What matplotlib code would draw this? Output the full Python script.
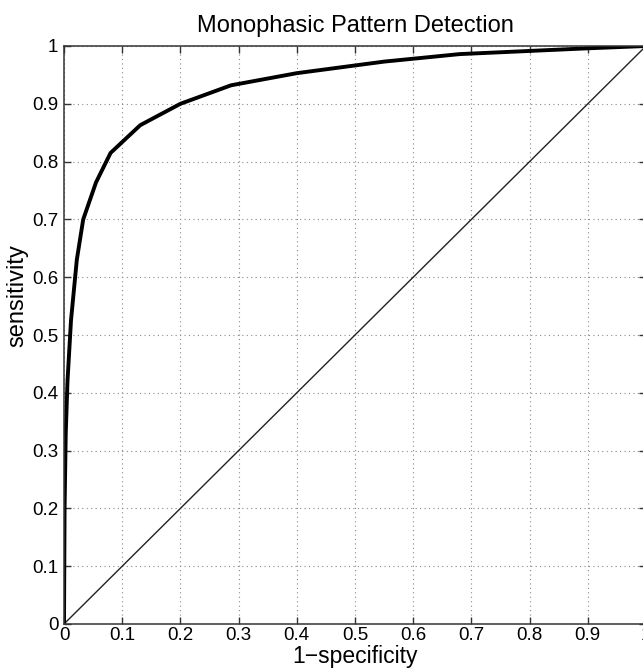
import matplotlib
matplotlib.use("Agg")
import matplotlib.pyplot as plt

# ROC curve
fpr = [0.0, 0.001, 0.003, 0.006, 0.012, 0.022, 0.033, 0.055, 0.08, 0.131,
       0.2, 0.287, 0.4, 0.55, 0.68, 0.9, 1.0]
tpr = [0.0, 0.2, 0.33, 0.42, 0.525, 0.63, 0.70, 0.764, 0.815, 0.863,
       0.90, 0.932, 0.953, 0.973, 0.986, 0.996, 1.0]
chance = [0.0, 1.0]
ticks = [0, 0.1, 0.2, 0.3, 0.4, 0.5, 0.6, 0.7, 0.8, 0.9, 1]
tick_labels = ["0", "0.1", "0.2", "0.3", "0.4", "0.5", "0.6", "0.7", "0.8", "0.9", "1"]

plt.rcParams["font.family"] = ["Liberation Sans", "DejaVu Sans"]

fig = plt.figure(figsize=(6.43, 6.70), dpi=100)
ax = fig.add_axes([64 / 643, 46 / 670, 582 / 643, 578 / 670])

ax.plot(chance, chance, color="#222222", lw=1.0)
ax.plot(fpr, tpr, color="black", lw=2.8, solid_joinstyle="round")

ax.set_xlim(0, 1)
ax.set_ylim(0, 1)
ax.set_xticks(ticks)
ax.set_xticklabels(tick_labels)
ax.set_yticks(ticks)
ax.set_yticklabels(tick_labels)
ax.tick_params(direction="in", length=5, width=1, labelsize=13.5,
               top=True, right=True, color="#333333")
ax.tick_params(axis="x", pad=2)
ax.tick_params(axis="y", pad=4)
ax.grid(True, linestyle=(0, (1, 3)), color="#888888", lw=0.8)
for s in ax.spines.values():
    s.set_color("#333333")
    s.set_linewidth(1.1)

ax.set_title("Monophasic Pattern Detection", fontsize=17, pad=10)
ax.set_xlabel("1\u2212specificity", fontsize=16.5)
ax.set_ylabel("sensitivity", fontsize=17)
ax.xaxis.set_label_coords(0.5, -0.036)
ax.yaxis.set_label_coords(-0.062, 0.569)

fig.savefig("out.png", dpi=100)
